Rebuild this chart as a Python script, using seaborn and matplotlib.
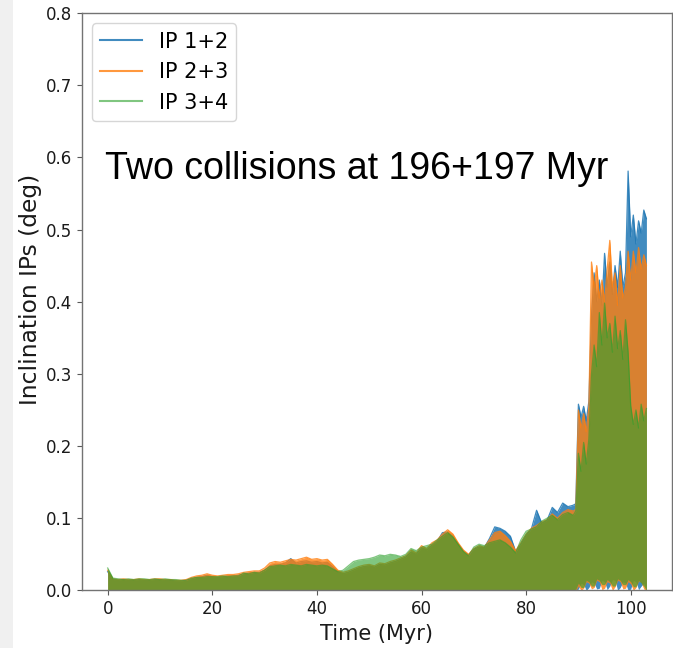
import numpy as np
import pandas as pd
import matplotlib
matplotlib.use("Agg")
import matplotlib.pyplot as plt
from matplotlib.patches import Rectangle
import seaborn as sns

# ---------------- data ----------------
time_myr = list(range(0, 89)) + [
    89, 89.5, 90, 90.5, 91, 91.5, 92, 92.5, 93, 93.5, 94, 94.5, 95, 95.5,
    96, 96.5, 97, 97.5, 98, 98.5, 99, 99.5, 100, 100.5, 101, 101.5, 102,
    102.5, 103,
]
series_names = ["IP 1+2", "IP 2+3", "IP 3+4"]

ip12_upper = [
    0.026, 0.015, 0.014, 0.015, 0.014, 0.014, 0.015, 0.014, 0.014, 0.015,
    0.015, 0.014, 0.014, 0.013, 0.013, 0.014, 0.016, 0.018, 0.019, 0.021,
    0.019, 0.018, 0.019, 0.020, 0.020, 0.021, 0.023, 0.024, 0.025, 0.025,
    0.028, 0.034, 0.036, 0.036, 0.038, 0.044, 0.038, 0.040, 0.041, 0.039,
    0.040, 0.038, 0.039, 0.033, 0.026, 0.023, 0.025, 0.028, 0.031, 0.033,
    0.034, 0.032, 0.036, 0.035, 0.038, 0.040, 0.043, 0.046, 0.053, 0.050,
    0.059, 0.056, 0.063, 0.068, 0.080, 0.081, 0.075, 0.064, 0.054, 0.049,
    0.057, 0.060, 0.059, 0.072, 0.088, 0.086, 0.082, 0.075, 0.054, 0.064,
    0.076, 0.085, 0.111, 0.093, 0.097, 0.115, 0.108, 0.121, 0.116,
    0.118, 0.120, 0.258, 0.240, 0.255, 0.235, 0.262, 0.380, 0.440, 0.400,
    0.430, 0.395, 0.467, 0.420, 0.455, 0.410, 0.450, 0.420, 0.470, 0.420,
    0.440, 0.581, 0.490, 0.520, 0.480, 0.512, 0.495, 0.527, 0.515,
]
ip23_upper = [
    0.028, 0.016, 0.015, 0.016, 0.015, 0.015, 0.016, 0.015, 0.015, 0.016,
    0.016, 0.015, 0.015, 0.014, 0.014, 0.015, 0.018, 0.020, 0.021, 0.023,
    0.021, 0.020, 0.021, 0.022, 0.022, 0.023, 0.025, 0.026, 0.027, 0.027,
    0.031, 0.038, 0.040, 0.039, 0.041, 0.043, 0.042, 0.044, 0.046, 0.043,
    0.044, 0.042, 0.043, 0.036, 0.028, 0.025, 0.027, 0.030, 0.033, 0.035,
    0.036, 0.034, 0.038, 0.037, 0.040, 0.042, 0.045, 0.048, 0.056, 0.052,
    0.062, 0.058, 0.066, 0.070, 0.078, 0.084, 0.078, 0.066, 0.056, 0.050,
    0.058, 0.062, 0.060, 0.070, 0.080, 0.082, 0.076, 0.068, 0.055, 0.066,
    0.078, 0.086, 0.090, 0.095, 0.098, 0.106, 0.100, 0.108, 0.112,
    0.110, 0.112, 0.250, 0.225, 0.245, 0.220, 0.255, 0.455, 0.420, 0.450,
    0.405, 0.430, 0.400, 0.445, 0.485, 0.420, 0.440, 0.395, 0.450, 0.405,
    0.420, 0.470, 0.430, 0.470, 0.440, 0.475, 0.445, 0.465, 0.450,
]
ip34_upper = [
    0.031, 0.017, 0.016, 0.015, 0.016, 0.015, 0.016, 0.016, 0.015, 0.016,
    0.015, 0.016, 0.015, 0.015, 0.014, 0.014, 0.017, 0.018, 0.018, 0.019,
    0.019, 0.019, 0.020, 0.019, 0.020, 0.020, 0.024, 0.023, 0.025, 0.024,
    0.028, 0.033, 0.034, 0.035, 0.034, 0.036, 0.035, 0.034, 0.036, 0.035,
    0.034, 0.035, 0.034, 0.030, 0.026, 0.028, 0.034, 0.040, 0.042, 0.043,
    0.044, 0.046, 0.049, 0.048, 0.050, 0.049, 0.047, 0.050, 0.058, 0.055,
    0.060, 0.062, 0.064, 0.070, 0.075, 0.080, 0.074, 0.064, 0.054, 0.048,
    0.060, 0.064, 0.062, 0.066, 0.068, 0.070, 0.066, 0.060, 0.052, 0.070,
    0.082, 0.085, 0.088, 0.096, 0.100, 0.104, 0.098, 0.105, 0.108,
    0.104, 0.110, 0.190, 0.165, 0.205, 0.175, 0.210, 0.300, 0.340, 0.310,
    0.385, 0.340, 0.398, 0.350, 0.370, 0.330, 0.380, 0.335, 0.360, 0.320,
    0.375, 0.330, 0.256, 0.230, 0.250, 0.225, 0.258, 0.235, 0.252,
]
ip12_lower = [0.0] * 89 + [
    0.0, 0.0, 0.002, 0.010, 0.008, 0.0, 0.004, 0.012, 0.010, 0.002,
    0.003, 0.014, 0.012, 0.001, 0.006, 0.015, 0.014, 0.0, 0.004, 0.012,
    0.010, 0.0, 0.002, 0.014, 0.012, 0.001, 0.006, 0.010, 0.0,
]
ip23_lower = [0.0] * 89 + [
    0.0, 0.0, 0.006, 0.0, 0.003, 0.012, 0.010, 0.002, 0.004, 0.014,
    0.012, 0.001, 0.003, 0.012, 0.010, 0.0, 0.005, 0.014, 0.012, 0.002,
    0.003, 0.012, 0.009, 0.0, 0.004, 0.013, 0.011, 0.002, 0.0,
]
ip34_lower = [0.0] * 89 + [
    0.0, 0.002, 0.010, 0.004, 0.004, 0.014, 0.012, 0.006, 0.006, 0.016,
    0.014, 0.008, 0.008, 0.015, 0.012, 0.006, 0.006, 0.016, 0.014, 0.008,
    0.008, 0.015, 0.012, 0.005, 0.005, 0.014, 0.010, 0.006, 0.0,
]

x_ticks = [0, 20, 40, 60, 80, 100]
y_ticks = [0.0, 0.1, 0.2, 0.3, 0.4, 0.5, 0.6, 0.7, 0.8]
annotation_text = "Two collisions at 196+197 Myr"
x_label = "Time (Myr)"
y_label = "Inclination IPs (deg)"

# ---------------- styling ----------------
colors = ["#1f77b4", "#ff7f0e", "#2ca02c"]
alphas = [0.85, 0.8, 0.6]

uppers = [ip12_upper, ip23_upper, ip34_upper]
lowers = [ip12_lower, ip23_lower, ip34_lower]

frames = []
for name, up, lo in zip(series_names, uppers, lowers):
    frames.append(pd.DataFrame({"time": time_myr, "upper": up, "lower": lo,
                                "series": name}))
df = pd.concat(frames, ignore_index=True)

W, H = 673, 648
fig = plt.figure(figsize=(W / 100, H / 100), dpi=100)
fig.patch.set_facecolor("white")
fig.add_artist(Rectangle((0, 0), 12.5 / W, 1, transform=fig.transFigure,
                         facecolor="#f0f0f0", edgecolor="none", zorder=-5))

ax_l, ax_r, ax_t, ax_b = 81.7, 672.3, 13.0, 590.4
ax = fig.add_axes([ax_l / W, (H - ax_b) / H, (ax_r - ax_l) / W, (ax_b - ax_t) / H])

for i, name in enumerate(series_names):
    sub = df[df["series"] == name]
    z = 2 + i * 0.2
    ax.fill_between(sub["time"], sub["lower"], sub["upper"], color=colors[i],
                    alpha=alphas[i], linewidth=0, zorder=z)
    sns.lineplot(data=sub, x="time", y="upper", color=colors[i], alpha=alphas[i],
                 linewidth=0.9, label=name, ax=ax, zorder=z + 0.1, sort=False,
                 estimator=None)

ax.set_xlim(-4.97, 107.95)
ax.set_ylim(0, 0.8)
ax.set_xticks(x_ticks)
ax.set_yticks(y_ticks)
ax.set_yticklabels([f"{v:.1f}" for v in y_ticks])
ax.tick_params(labelsize=12, color="0.35", labelcolor="0.1")
for sp in ax.spines.values():
    sp.set_color("0.45")
    sp.set_linewidth(1.0)
ax.set_xlabel(x_label, fontsize=15, color="0.1")
ax.set_ylabel(y_label, fontsize=16.8, color="0.1")
ax.yaxis.set_label_coords(-0.068, 0.522)

leg = ax.legend(loc="upper left", fontsize=15)
for h in leg.get_lines():
    h.set_linewidth(1.5)

ax.text(-0.5, 0.57, annotation_text, fontsize=27, family="Liberation Sans",
        ha="left", va="baseline", zorder=10)

fig.savefig("out.png", dpi=100)
